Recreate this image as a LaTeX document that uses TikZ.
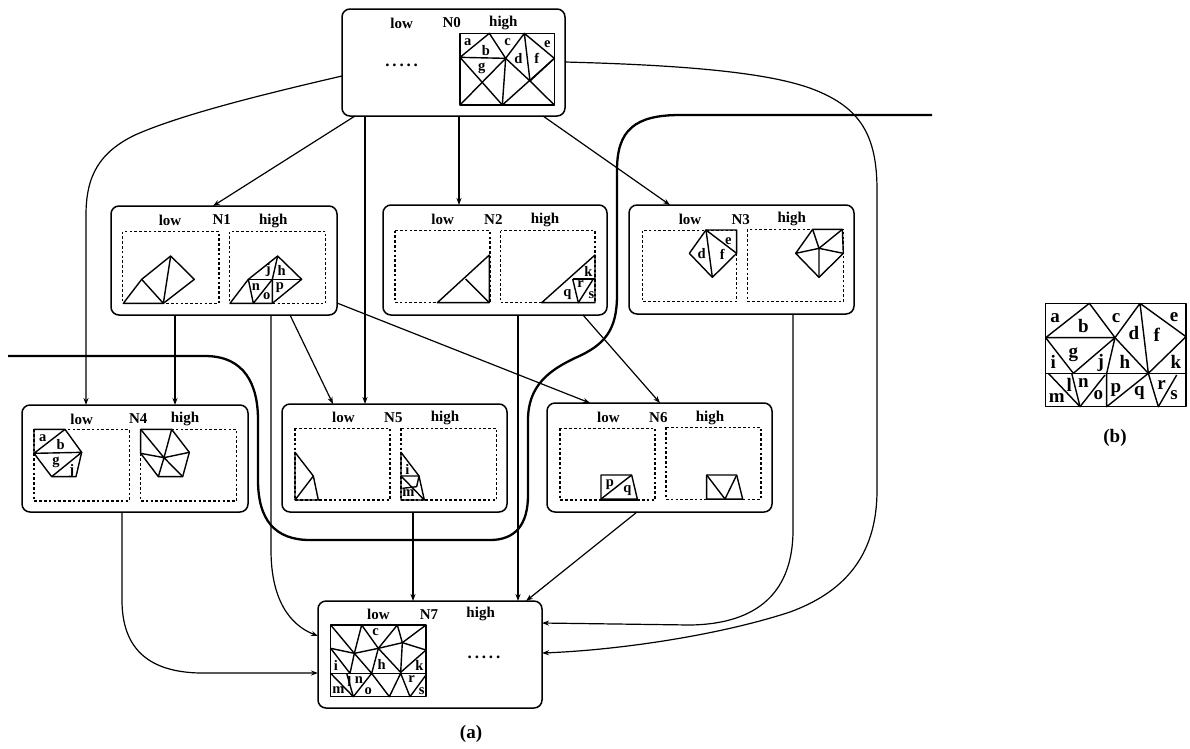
\documentclass[tikz,border=0pt]{standalone}
\usepackage{fontspec}
\setmainfont{Liberation Serif}
\usetikzlibrary{arrows.meta,calc}
\newcounter{lc}
\tikzset{
  nbox/.style={draw=black,line width=1.5pt,rounded corners=8pt,inner sep=0pt,outer sep=0pt,fill=white},
  dbox/.style={draw=black,line width=1.5pt,dash pattern=on 2.6pt off 2.2pt},
  mesh/.style={draw=black,line width=1.4pt,line join=round},
  arr/.style={draw=black,line width=1.2pt,-{Stealth[length=7pt,width=5pt]}},
  heavy/.style={draw=black,line width=2.3pt},
  txt/.style={inner sep=0pt,font=\fontsize{15}{17}\selectfont\bfseries},
  small/.style={inner sep=0pt,font=\fontsize{14.5}{16}\selectfont\bfseries},
  big/.style={inner sep=0pt,font=\fontsize{19}{21}\selectfont\bfseries},
  dots/.style={inner sep=0pt,font=\fontsize{17}{19}\selectfont\bfseries}
}
\newcommand{\nbx}[5]{\node[nbox,minimum width={(#4-#2)*1pt},minimum height={(#5-#3)*1pt}] (#1) at ({(#2+#4)/2},{(#3+#5)/2}) {};}
\newcommand{\T}[3][txt]{\stepcounter{lc}\node[#1] (t\thelc) at (#2) {#3};}
\newcommand{\Zs}[2]{\begin{scope}[shift={(#1,#2)},x=0.33333pt,y=-0.33333pt]}
\newcommand{\Ze}{\end{scope}}
\begin{document}
\begin{tikzpicture}[x=1pt,y=-1pt]
\useasboundingbox[fill=white] (0,0) rectangle (1190,748);
\nbx{N0}{342}{9}{565}{116}
\nbx{N1}{111}{206}{337}{315}
\nbx{N2}{383}{205}{607}{315}
\nbx{N3}{629}{205}{854}{314}
\nbx{N4}{22}{405}{248}{512}
\nbx{N5}{282}{404}{507}{512}
\nbx{N6}{547}{403}{772}{512}
\nbx{N7}{318}{601}{542}{708}
% thick cut lines
\coordinate (cutA) at (8,356);
\coordinate (cutB) at (932,115);
\draw[heavy] (cutA) -- (205,356) .. controls (245,356) and (258,385) .. (258,420) -- (258,480) .. controls (258,520) and (275,540) .. (310,540) -- (490,540) .. controls (515,540) and (528,525) .. (528,495) -- (528,420) .. controls (528,385) and (550,370) .. (575,358) .. controls (605,345) and (617,330) .. (617,295) -- (617,170) .. controls (617,130) and (635,115) .. (680,115) -- (cutB);
% connectors
\draw[arr] ([yshift=40pt]N0.south west) .. controls (260,95) and (180,115) .. (135,135) .. controls (100,152) and (86,175) .. (86,215) -- ([xshift=64pt]N4.north west);
\draw[arr] ([xshift=13pt]N0.south west) -- ([xshift=102pt]N1.north west);
\draw[arr] ([xshift=23pt]N0.south west) -- ([xshift=83pt]N5.north west);
\draw[arr] ([xshift=117pt]N0.south west) -- ([xshift=76pt]N2.north west);
\draw[arr] ([xshift=201pt]N0.south west) -- ([xshift=41pt]N3.north west);
\draw[arr] ([yshift=54pt]N0.south east) .. controls (680,65) and (770,72) .. (815,90) .. controls (860,108) and (877,135) .. (877,190) -- (877,490) .. controls (877,550) and (850,590) .. (790,612) .. controls (720,635) and (620,650) .. ([yshift=55pt]N7.south east);
\draw[arr] ([xshift=64pt]N1.south west) -- ([xshift=153pt]N4.north west);
\draw[arr] ([xshift=160pt]N1.south west) -- (271,550) .. controls (271,600) and (290,625) .. ([yshift=72pt]N7.south west);
\draw[arr] ([xshift=179pt]N1.south west) -- ([xshift=51pt]N5.north west);
\draw[arr] ([yshift=12pt]N1.south east) -- ([xshift=43pt]N6.north west);
\draw[arr] ([xshift=135pt]N2.south west) -- ([xshift=200pt]N7.north west);
\draw[arr] ([xshift=200pt]N2.south west) -- ([xshift=113pt]N6.north west);
\draw[arr] ([xshift=164pt]N3.south west) -- (793,530) .. controls (793,590) and (760,624) .. (690,625) -- ([yshift=85pt]N7.south east);
\draw[arr] ([xshift=100pt]N4.south west) -- (122,600) .. controls (122,650) and (150,672) .. (200,673) -- ([yshift=35pt]N7.south west);
\draw[arr] ([xshift=131pt]N5.south west) -- ([xshift=95pt]N7.north west);
\draw[arr] ([xshift=90pt]N6.south west) -- ([xshift=208pt]N7.north west);
% N0
\Zs{340}{0}
\T{185,70}{low}\T{335,68}{N0}\T{490,70}{high}
\T[dots]{185,197}{.\,.\,.\,.\,.}
\draw[mesh] (360,100) rectangle (643,315);
\draw[mesh] (360,172)--(448,100)--(497,175)--(360,172);
\draw[mesh] (497,175)--(553,100)--(643,175)--(570,243)--(553,100);
\draw[mesh] (497,175)--(570,243);
\draw[mesh] (360,172)--(487,315)--(497,175)--(360,315);
\draw[mesh] (487,315)--(643,175);
\draw[mesh] (570,243)--(643,315);
\T[small]{383,125}{a}\T[small]{438,152}{b}\T[small]{503,125}{c}\T[small]{535,175}{d}\T[small]{590,175}{f}\T[small]{622,133}{e}\T[small]{425,205}{g}
\Ze
% N1
\Zs{100}{200}
\T{210,62}{low}\T{365,60}{N1}\T{520,62}{high}
\draw[dbox] (68,95) rectangle (357,310);
\draw[dbox] (388,95) rectangle (677,310);
\draw[mesh] (70,310)--(125,238)--(212,168)--(283,238)--(190,310)--cycle;
\draw[mesh] (125,238)--(190,310)--(212,168);
\draw[mesh] (390,310)--(445,238)--(533,168)--(605,238)--(517,310)--cycle;
\draw[mesh] (445,238)--(605,238);
\draw[mesh] (533,168)--(517,238)--(517,310);
\draw[mesh] (445,238)--(460,310)--(517,238);
\T[small]{505,210}{j}\T[small]{545,210}{h}\T[small]{468,262}{n}\T[small]{500,287}{o}\T[small]{540,262}{p}
\Ze
% N2
\Zs{380}{200}
\T{188,58}{low}\T{340,58}{N2}\T{495,60}{high}
\draw[dbox] (45,92) rectangle (330,308);
\draw[dbox] (362,92) rectangle (645,308);
\draw[mesh] (172,308)--(328,165)--(328,308)--cycle;
\draw[mesh] (257,237)--(328,308);
\draw[mesh] (485,308)--(645,165)--(645,308)--cycle;
\draw[mesh] (578,237)--(645,237);
\draw[mesh] (578,237)--(595,308)--(640,237);
\T[small]{625,213}{k}\T[small]{602,252}{r}\T[small]{562,283}{q}\T[small]{634,285}{s}
\Ze
% N3
\Zs{625}{200}
\T{195,58}{low}\T{347,58}{N3}\T{500,58}{high}
\draw[dbox] (52,92) rectangle (335,305);
\draw[dbox] (368,88) rectangle (655,305);
\draw[mesh] (243,90)--(335,90)--(335,160)--(262,232)--(193,160)--cycle;
\draw[mesh] (335,160)--(243,90)--(262,232);
\T[small]{230,160}{d}\T[small]{292,162}{f}\T[small]{310,122}{e}
\draw[mesh] (563,88)--(652,88)--(655,160)--(582,232)--(512,160)--cycle;
\draw[mesh] (563,88)--(582,145)--(652,88) (655,160)--(582,145)--(582,232) (512,160)--(582,145);
\Ze
% N4
\Zs{10}{395}
\T{215,72}{low}\T{385,72}{N4}\T{525,72}{high}
\draw[dbox] (72,103) rectangle (358,318);
\draw[dbox] (392,103) rectangle (680,318);
\draw[mesh] (72,103)--(165,103)--(215,172)--(198,245)--(125,245)--(72,175)--cycle;
\draw[mesh] (165,103)--(72,175)--(215,172)--(125,245);
\T[small]{98,128}{a}\T[small]{152,150}{b}\T[small]{138,203}{g}\T[small]{185,228}{j}
\draw[mesh] (392,103)--(485,103)--(538,172)--(518,245)--(445,245)--(392,175)--cycle;
\draw[mesh] (392,103)--(462,188)--(485,103) (538,172)--(462,188)--(518,245) (445,245)--(462,188)--(392,175);
\Ze
% N5
\Zs{275}{395}
\T{205,68}{low}\T{355,68}{N5}\T{510,68}{high}
\draw[dbox] (60,100) rectangle (345,315);
\draw[dbox] (378,100) rectangle (665,315);
\draw[mesh] (60,172)--(115,243)--(130,315)--(60,315)--cycle;
\draw[mesh] (60,315)--(115,243);
\draw[mesh] (378,172)--(432,243)--(448,315)--(378,315)--cycle;
\draw[mesh] (378,243)--(432,243)--(425,275)--(382,280);
\draw[mesh] (378,243)--(448,315);
\T[small]{397,222}{i}\T[small]{400,294}{m}
\Ze
% N6
\Zs{540}{395}
\T{205,68}{low}\T{355,68}{N6}\T{510,68}{high}
\draw[dbox] (60,100) rectangle (345,315);
\draw[dbox] (378,97) rectangle (663,313);
\draw[mesh] (183,240)--(275,240)--(292,312)--(183,312)--cycle;
\draw[mesh] (183,312)--(275,240);
\draw[mesh] (178,315)--(298,315);
\T[small]{210,270}{p}\T[small]{262,288}{q}
\draw[mesh] (500,240)--(590,240)--(608,312)--(500,312)--cycle;
\draw[mesh] (500,240)--(555,312)--(590,240);
\draw[mesh] (492,313)--(615,313);
\Ze
% N7
\Zs{310}{595}
\T{205,58}{low}\T{357,58}{N7}\T{512,58}{high}
\T[dots]{522,187}{.\,.\,.\,.\,.}
\draw[mesh] (62,90) rectangle (348,305);
\draw[mesh] (62,90)--(133,175)--(155,90)--(205,160)--(262,90)--(277,143)--(348,90);
\draw[mesh] (62,160)--(133,175)--(205,160)--(277,143)--(348,165);
\draw[mesh] (62,235)--(348,235);
\draw[mesh] (133,175)--(185,235)--(205,160)--(272,232)--(277,143);
\draw[mesh] (348,165)--(272,232);
\draw[mesh] (62,160)--(120,235)--(133,175);
\draw[mesh] (62,235)--(130,305)--(185,235)--(238,305)--(272,235)--(300,305)--(348,240);
\draw[mesh] (110,235)--(130,305);
\T[small]{197,110}{c}\T[small]{78,210}{i}\T[small]{215,208}{h}\T[small]{328,212}{k}\T[small]{118,258}{l}\T[small]{147,255}{n}\T[small]{85,285}{m}\T[small]{175,287}{o}\T[small]{305,252}{r}\T[small]{335,287}{s}
\T[big]{483,418}{(a)}
\Ze
% (b)
\Zs{1030}{295}
\draw[mesh] (47,25) rectangle (468,335);
\draw[mesh] (47,128)--(178,25)--(255,128)--(47,128);
\draw[mesh] (255,128)--(330,25)--(468,125)--(355,235)--(330,25);
\draw[mesh] (255,128)--(355,235);
\draw[mesh] (47,235)--(468,235);
\draw[mesh] (47,128)--(130,235)--(255,128)--(230,235)--(230,335)--(355,235)--(385,335)--(440,240);
\draw[mesh] (125,235)--(150,335)--(55,235);
\draw[mesh] (150,335)--(225,240);
\T[big]{75,70}{a}\T[big]{160,92}{b}\T[big]{258,68}{c}\T[big]{312,115}{d}\T[big]{380,118}{f}\T[big]{432,65}{e}\T[big]{70,200}{i}\T[big]{130,180}{g}\T[big]{212,205}{j}\T[big]{285,200}{h}\T[big]{438,200}{k}\T[big]{118,270}{l}\T[big]{160,265}{n}\T[big]{80,308}{m}\T[big]{205,300}{o}\T[big]{258,285}{p}\T[big]{328,295}{q}\T[big]{395,270}{r}\T[big]{432,300}{s}
\T[big]{255,430}{(b)}
\Ze
\end{tikzpicture}
\end{document}
